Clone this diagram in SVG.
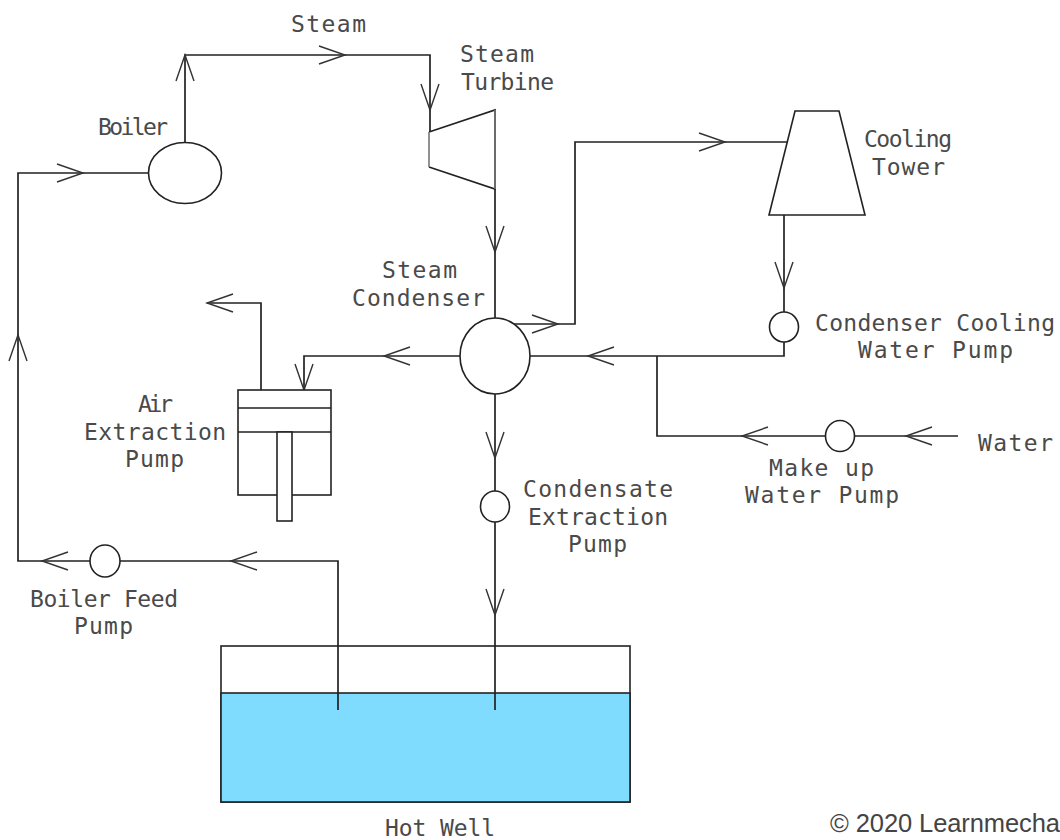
<svg xmlns="http://www.w3.org/2000/svg" width="1060" height="840" viewBox="0 0 1060 840">
<style>
.s{fill:#fff;stroke:#222;stroke-width:1.6}
.g{fill:none;stroke:#777;stroke-width:1.6}
.c{fill:none;stroke:#222;stroke-width:1.7}
.a{fill:none;stroke:#222;stroke-width:1;marker-end:url(#open)}
text{font-family:"DejaVu Sans Mono","Liberation Mono",monospace;font-size:23px;fill:#4a4a4a}
text.w{font-family:"Liberation Sans",Arial,sans-serif;font-size:25.5px;fill:#444}
</style>
<defs>
<marker id="open" markerUnits="userSpaceOnUse" markerWidth="32" markerHeight="24" refX="28" refY="12" orient="auto">
<path d="M2 3L28 12L2 21" fill="none" stroke="#333" stroke-width="1.4"/>
</marker>
</defs>
<rect width="1060" height="840" fill="#fff"/>

<g id="hot-well">
<rect class="s" x="221" y="646" width="409" height="156"/>
<rect x="221" y="693" width="409" height="109" fill="#7fdcff" stroke="#222" stroke-width="1.6"/>
<text x="385" y="836" textLength="110">Hot Well</text>
</g>

<g id="connectors">
<path class="c" d="M148 173H18V561H90"/>
<path class="c" d="M185 142V55H430V132"/>
<path class="c" d="M495 189V318"/>
<path class="c" d="M513 324H575V142H787"/>
<path class="c" d="M784 215V312"/>
<path class="c" d="M784 342V356H530"/>
<path class="c" d="M657 356V436H826"/>
<path class="c" d="M854 436H958"/>
<path class="c" d="M460 356H304V390"/>
<path class="c" d="M261 390V303H207"/>
<path class="c" d="M495 394V491"/>
<path class="c" d="M495 522V710"/>
<path class="c" d="M120 561H338V710"/>
<path class="a" d="M18 336V335"/>
<path class="a" d="M82 173H83"/>
<path class="a" d="M185 56V55"/>
<path class="a" d="M344 55H345"/>
<path class="a" d="M430 109V110"/>
<path class="a" d="M495 251V252"/>
<path class="a" d="M557 324H558"/>
<path class="a" d="M724 142H725"/>
<path class="a" d="M784 287V288"/>
<path class="a" d="M589 356H588"/>
<path class="a" d="M743 436H742"/>
<path class="a" d="M907 436H906"/>
<path class="a" d="M385 356H384"/>
<path class="a" d="M304 389V390"/>
<path class="a" d="M208 303H207"/>
<path class="a" d="M495 457V458"/>
<path class="a" d="M495 614V615"/>
<path class="a" d="M232 561H231"/>
<path class="a" d="M43 561H42"/>
</g>

<g id="steam-label"><text x="291" y="32" textLength="75">Steam</text></g>

<g id="boiler">
<ellipse class="s" cx="185" cy="173" rx="36.5" ry="30.5"/>
<text x="98" y="135" textLength="70">Boiler</text>
</g>

<g id="steam-turbine">
<path class="c" d="M429 132L495 110V189L429 167"/>
<path class="g" d="M429 132V167M495 110V189"/>
<text x="460" y="62" textLength="74">Steam</text>
<text x="461" y="90" textLength="93">Turbine</text>
</g>

<g id="steam-condenser">
<ellipse class="s" cx="495" cy="356" rx="35" ry="38"/>
<text x="382" y="278" textLength="75">Steam</text>
<text x="352" y="306" textLength="133">Condenser</text>
</g>

<g id="cooling-tower">
<path class="s" d="M795 111H839L865 215H769Z"/>
<text x="864" y="147" textLength="88">Cooling</text>
<text x="872" y="175" textLength="73">Tower</text>
</g>

<g id="condenser-cooling-water-pump">
<ellipse class="s" cx="784" cy="327" rx="14.5" ry="15"/>
<text x="815" y="331" textLength="240">Condenser Cooling</text>
<text x="858" y="358" textLength="155">Water Pump</text>
</g>

<g id="make-up-water-pump">
<ellipse class="s" cx="840" cy="436" rx="14.5" ry="15.5"/>
<text x="769" y="476" textLength="105">Make up</text>
<text x="745" y="503" textLength="154">Water Pump</text>
</g>

<g id="water-label"><text x="978" y="451" textLength="75">Water</text></g>

<g id="air-extraction-pump">
<rect class="s" x="238" y="390" width="93" height="105"/>
<path class="c" d="M238 408H331M238 432H331"/>
<rect class="s" x="277" y="432" width="15" height="89"/>
<text x="138" y="412" textLength="35">Air</text>
<text x="84" y="440" textLength="142">Extraction</text>
<text x="125" y="467" textLength="59">Pump</text>
</g>

<g id="condensate-extraction-pump">
<ellipse class="s" cx="495" cy="506.500" rx="14.500" ry="15.500"/>
<text x="523" y="497" textLength="150">Condensate</text>
<text x="528" y="525" textLength="140">Extraction</text>
<text x="568" y="552" textLength="59">Pump</text>
</g>

<g id="boiler-feed-pump">
<ellipse class="s" cx="105" cy="561" rx="15" ry="16"/>
<text x="30" y="607" textLength="148">Boiler Feed</text>
<text x="74" y="634" textLength="59">Pump</text>
</g>

<text class="w" x="830" y="832" textLength="230">© 2020 Learnmecha</text>
</svg>
